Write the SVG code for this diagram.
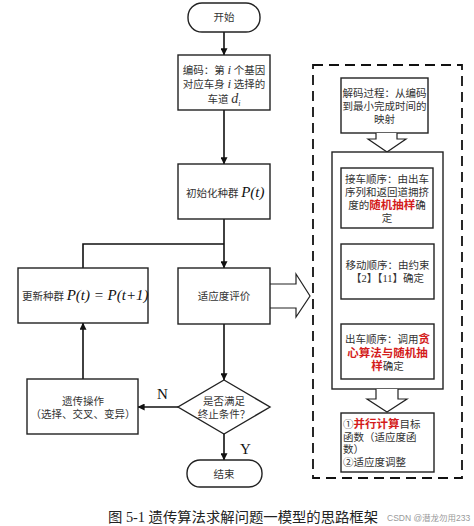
<svg xmlns="http://www.w3.org/2000/svg" width="474" height="526" viewBox="0 0 474 526">
<defs>
<style>
.b{fill:#fff;stroke:#222;stroke-width:1.4}
.c{fill:none;stroke:#111;stroke-width:1.6}
.t{font-family:"Liberation Serif","Noto Sans CJK SC",serif;font-size:10.5px;fill:#333}
.m{font-family:"Liberation Serif",serif;font-style:italic;font-size:15px;fill:#111}
.r{fill:#d41c1c;font-weight:bold;font-size:11.5px}
.h{fill:#fff;stroke:#222;stroke-width:1.2}
</style>
<marker id="a" viewBox="0 0 10 10" refX="9.5" refY="5" markerWidth="7" markerHeight="7" markerUnits="userSpaceOnUse" orient="auto">
<path d="M0,0 L10,5 L0,10 z" fill="#111"/>
</marker>
</defs>
<rect width="474" height="526" fill="#fff"/>
<g id="connectors">
<line class="c" x1="224" y1="32" x2="224" y2="55" marker-end="url(#a)"/>
<line class="c" x1="224" y1="110" x2="224" y2="164" marker-end="url(#a)"/>
<line class="c" x1="224" y1="219" x2="224" y2="268" marker-end="url(#a)"/>
<polyline class="c" points="83,268 83,244 224,244"/>
<line class="c" x1="224" y1="324" x2="224" y2="380" marker-end="url(#a)"/>
<line class="c" x1="178" y1="407" x2="138" y2="407" marker-end="url(#a)"/>
<line class="c" x1="83" y1="379" x2="83" y2="323" marker-end="url(#a)"/>
<line class="c" x1="224" y1="434" x2="224" y2="460" marker-end="url(#a)"/>
<text x="157" y="399" font-family="Liberation Serif,serif" font-size="15" fill="#111">N</text>
<text x="240" y="454" font-family="Liberation Serif,serif" font-size="15" fill="#111">Y</text>
<polyline class="h" points="270,284 296,284 296,274 310,296 296,317 296,308 270,308"/>
</g>
<g id="start">
<rect class="b" x="188" y="3" width="72" height="29" rx="14"/>
<text class="t" x="224" y="21" text-anchor="middle">开始</text>
</g>
<g id="encode">
<rect class="b" x="178" y="55" width="92" height="55"/>
<text class="t" x="224" y="74" text-anchor="middle">编码：第 <tspan font-style="italic" font-size="13">i</tspan> 个基因</text>
<text class="t" x="224" y="88" text-anchor="middle">对应车身 <tspan font-style="italic" font-size="13">i</tspan> 选择的</text>
<text class="t" x="224" y="103" text-anchor="middle">车道 <tspan font-style="italic" font-size="14">d</tspan><tspan font-style="italic" font-size="8" dy="3">i</tspan></text>
</g>
<g id="init">
<rect class="b" x="178" y="164" width="92" height="55"/>
<text class="t" x="186" y="197">初始化种群 <tspan class="m">P</tspan><tspan class="m" font-style="normal">(</tspan><tspan class="m">t</tspan><tspan class="m" font-style="normal">)</tspan></text>
</g>
<g id="fitness">
<rect class="b" x="178" y="268" width="92" height="56"/>
<text class="t" x="224" y="300" text-anchor="middle">适应度评价</text>
</g>
<g id="update">
<rect class="b" x="18" y="268" width="130" height="55"/>
<text class="t" x="22" y="300">更新种群 <tspan class="m">P</tspan><tspan class="m" font-style="normal">(</tspan><tspan class="m">t</tspan><tspan class="m" font-style="normal">) = </tspan><tspan class="m">P</tspan><tspan class="m" font-style="normal">(</tspan><tspan class="m">t</tspan><tspan class="m" font-style="normal">+1)</tspan></text>
</g>
<g id="genetic">
<rect class="b" x="27" y="379" width="111" height="55"/>
<text class="t" x="83" y="405" text-anchor="middle">遗传操作</text>
<text class="t" x="83" y="418" text-anchor="middle">（选择、交叉、变异）</text>
</g>
<g id="decision">
<polygon class="b" points="224,380 270,407 224,434 178,407"/>
<text class="t" x="224" y="405" text-anchor="middle">是否满足</text>
<text class="t" x="224" y="418" text-anchor="middle">终止条件？</text>
</g>
<g id="end">
<rect class="b" x="187" y="460" width="75" height="27" rx="13"/>
<text class="t" x="224" y="478" text-anchor="middle">结束</text>
</g>
<g id="decode-frame">
<rect x="313" y="65" width="149" height="413" fill="none" stroke="#111" stroke-width="1.8" stroke-dasharray="10,6"/>
</g>
<g id="decode">
<rect class="b" x="341" y="78" width="87" height="55"/>
<text class="t" x="384.5" y="97" text-anchor="middle">解码过程：从编码</text>
<text class="t" x="384.5" y="110" text-anchor="middle">到最小完成时间的</text>
<text class="t" x="384.5" y="123" text-anchor="middle">映射</text>
</g>
<g id="arrow-down-1">
<polyline class="h" points="376,133 376,139 368,139 387,152 406,139 397,139 397,133"/>
</g>
<g id="order-group">
<rect class="b" x="332" y="152" width="111" height="237"/>
</g>
<g id="pickup">
<rect class="b" x="341" y="168" width="92" height="60"/>
<text class="t" x="387" y="183" text-anchor="middle">接车顺序：由出车</text>
<text class="t" x="387" y="196" text-anchor="middle">序列和返回道拥挤</text>
<text class="t" x="387" y="209" text-anchor="middle">度的<tspan class="r">随机抽样</tspan>确</text>
<text class="t" x="387" y="222" text-anchor="middle">定</text>
</g>
<g id="move">
<rect class="b" x="341" y="244" width="93" height="55"/>
<text class="t" x="387.5" y="269" text-anchor="middle">移动顺序：由约束</text>
<text class="t" x="387.5" y="282" text-anchor="middle">【2】【11】确定</text>
</g>
<g id="depart">
<rect class="b" x="341" y="324" width="93" height="55"/>
<text class="t" x="387.5" y="343" text-anchor="middle">出车顺序：调用<tspan class="r">贪</tspan></text>
<text class="t" x="387.5" y="357" text-anchor="middle"><tspan class="r">心算法与随机抽</tspan></text>
<text class="t" x="387.5" y="370" text-anchor="middle"><tspan class="r">样</tspan>确定</text>
</g>
<g id="arrow-down-2">
<polyline class="h" points="376,389 376,399 367,399 387,412 407,399 398,399 398,389"/>
</g>
<g id="objective">
<rect class="b" x="341" y="413" width="93" height="59"/>
<text class="t" x="343" y="428">①<tspan class="r">并行计算</tspan>目标</text>
<text class="t" x="343" y="441">函数（适应度函</text>
<text class="t" x="343" y="453">数）</text>
<text class="t" x="343" y="466">②适应度调整</text>
</g>
<g id="caption">
<text x="108" y="522" font-family="Liberation Serif,Noto Sans CJK SC,serif" font-size="14" fill="#222" textLength="270" lengthAdjust="spacingAndGlyphs">图 5-1 遗传算法求解问题一模型的思路框架</text>
<text x="387" y="521" font-family="Liberation Sans,Noto Sans CJK SC,sans-serif" font-size="8.5" fill="#999">CSDN @潜龙勿用233</text>
</g>
</svg>
